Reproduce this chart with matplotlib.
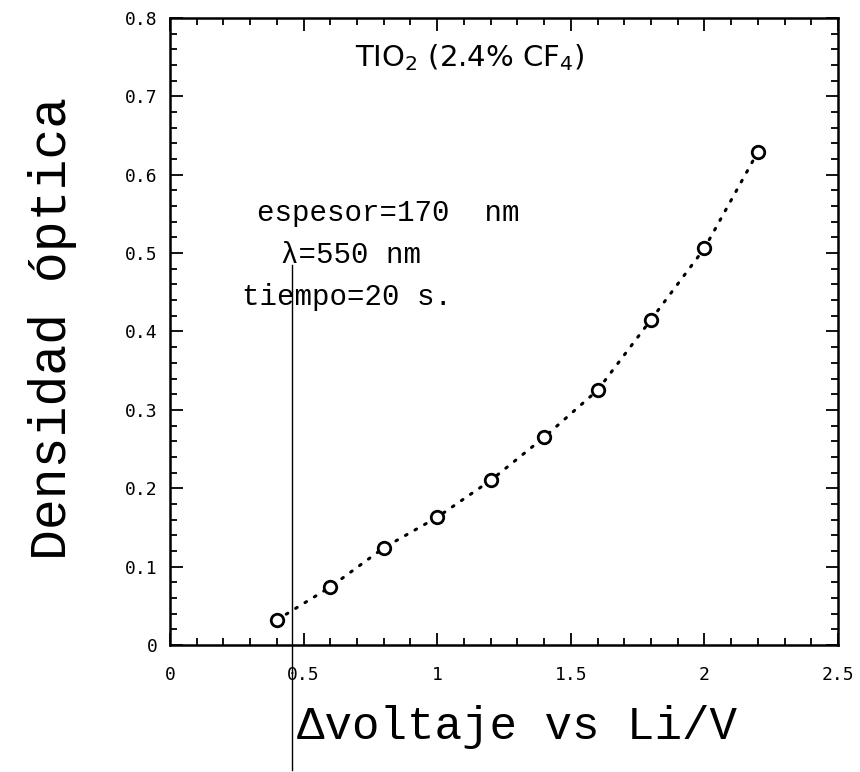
import matplotlib
matplotlib.use("Agg")
import matplotlib.pyplot as plt
from matplotlib.ticker import MultipleLocator, FixedLocator
import numpy as np

# data
voltage = [0.40, 0.60, 0.80, 1.00, 1.20, 1.40, 1.60, 1.80, 2.00, 2.20]
density = [0.032, 0.074, 0.124, 0.163, 0.210, 0.265, 0.325, 0.415, 0.506, 0.629]
x_ticks = [0, 0.5, 1, 1.5, 2, 2.5]
x_tick_labels = ["0", "0.5", "1", "1.5", "2", "2.5"]
y_ticks = [0, 0.1, 0.2, 0.3, 0.4, 0.5, 0.6, 0.7, 0.8]
y_tick_labels = ["0", "0.1", "0.2", "0.3", "0.4", "0.5", "0.6", "0.7", "0.8"]
ref_line_x = 0.455
ref_line_y = (0.485, -0.16)

mono = ["Liberation Mono", "DejaVu Sans Mono"]

fig = plt.figure(figsize=(8.6, 7.72), dpi=100)
ax = fig.add_axes([0.1977, 0.1645, 0.9744 - 0.1977, 0.9767 - 0.1645])

ax.plot(voltage, density, linestyle=(0, (0.6, 3.0)), color="black", lw=2.2,
        dash_capstyle="round", zorder=2)
ax.plot(voltage, density, linestyle="none", marker="o", ms=9, mfc="white",
        mec="black", mew=2.0, zorder=3)

ax.plot([ref_line_x, ref_line_x], list(ref_line_y), color="black", lw=1.0,
        clip_on=False, zorder=1)

ax.set_xlim(0, 2.5)
ax.set_ylim(0, 0.8)
ax.xaxis.set_major_locator(FixedLocator(x_ticks))
ax.set_xticklabels(x_tick_labels, family="DejaVu Sans Mono")
ax.xaxis.set_minor_locator(MultipleLocator(0.1))
ax.yaxis.set_major_locator(FixedLocator(y_ticks))
ax.set_yticklabels(y_tick_labels, family="DejaVu Sans Mono")
ax.yaxis.set_minor_locator(MultipleLocator(0.02))

ax.tick_params(which="both", direction="in", top=True, right=True, width=1.3, color="black")
ax.tick_params(which="major", length=9)
ax.tick_params(which="minor", length=5)
ax.tick_params(axis="x", which="major", pad=15, labelsize=13)
ax.tick_params(axis="y", which="major", pad=9, labelsize=13)
for s in ax.spines.values():
    s.set_linewidth(1.8)

ax.set_xlabel("\u0394voltaje vs Li/V", family=mono, fontsize=33)
ax.set_ylabel("Densidad \u00f3ptica", family=mono, fontsize=37)
ax.xaxis.set_label_coords(0.52, -0.095)
ax.yaxis.set_label_coords(-0.14, 0.505)

ax.text(1.12, 0.749, "TIO$_2$ (2.4% CF$_4$)", ha="center", va="center", fontsize=21)
ax.text(0.816, 0.551, "espesor=170  nm", ha="center", va="center", family=mono, fontsize=21)
ax.text(0.677, 0.497, "\u03bb=550 nm", ha="center", va="center", family=mono, fontsize=21)
ax.text(0.663, 0.444, "tiempo=20 s.", ha="center", va="center", family=mono, fontsize=21)

fig.savefig("out.png", dpi=100)
